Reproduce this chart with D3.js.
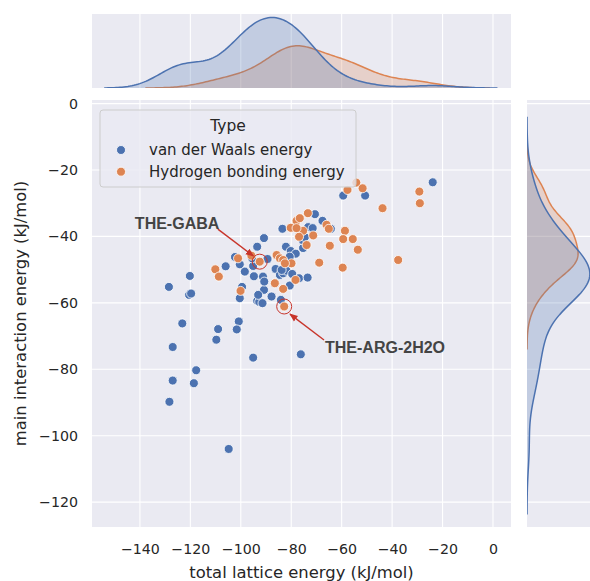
<!DOCTYPE html>
<html>
<head>
<meta charset="utf-8">
<script src="https://cdn.jsdelivr.net/npm/d3@7"></script>
<style>
  body{margin:0;background:#fff;}
  svg text{font-family:"DejaVu Sans",sans-serif;fill:#262626;}
</style>
</head>
<body>
<svg id="chart" width="590" height="581"></svg>
<script>
// van der Waals energy points: [total lattice energy, main interaction energy]
const vdwPts=[[-128.5,-55.2],[-120.2,-51.9],[-120.5,-57.6],[-119.7,-57.2],[-123.2,-66.2],[-127,-73.3],[-117.7,-80.3],[-127,-83.4],[-118.6,-84.2],[-128.3,-89.8],
  [-104.8,-104],[-109,-67.9],[-109.7,-71.1],[-100.8,-65.6],[-101.6,-68],[-100.4,-58.6],[-99.5,-55.2],[-106,-49],[-102.3,-46.2],[-100.4,-48.4],
  [-98.4,-50.6],[-95.1,-76.5],[-76.2,-75.5],[-83.5,-37.7],[-90.8,-40.5],[-93.5,-43.1],[-95.1,-48.9],[-94.8,-52],[-91.2,-52.1],[-89.4,-46.8],
  [-93.5,-59.4],[-92.7,-59.7],[-91.4,-60.1],[-90.8,-56.1],[-90.7,-53.6],[-87.8,-58.1],[-86.5,-54.1],[-86.2,-49.8],[-84.5,-51.6],[-83.2,-51.1],
  [-81.9,-50.3],[-84.1,-59.1],[-80.6,-54.8],[-82.1,-43.1],[-80.2,-44.4],[-79.6,-51.3],[-76.9,-52.6],[-73.5,-52.4],[-75.3,-43.5],[-75.5,-41.1],
  [-73.3,-37.2],[-70.6,-33.3],[-67.6,-35.3],[-64.3,-37.7],[-59.4,-27.7],[-23.9,-23.7],[-50.7,-27.7],[-71.5,-37.5],[-74.6,-40.2],[-78.2,-45.2],
  [-80.6,-46.1],[-83.8,-50.1],[-93.1,-57.6],[-95.5,-46.6]];
// hydrogen bonding energy points
const hbPts=[[-110.1,-49.9],[-108.7,-52.1],[-100.1,-56.4],[-92.5,-47.6],[-95.8,-45.8],[-85.8,-45.6],[-84.5,-46.6],[-83.2,-47.1],[-82.8,-61.1],[-83.2,-55.8],
  [-78.3,-53.1],[-79.9,-48.1],[-82.5,-48.1],[-86.5,-54.1],[-80.2,-37.4],[-77.9,-35.3],[-76.6,-34.5],[-75.3,-38.3],[-76.9,-40.1],[-73.4,-33],
  [-66,-36.5],[-65.1,-37.7],[-64.7,-42.8],[-68.9,-47.9],[-59.6,-49.4],[-58.7,-38.3],[-59.4,-40.8],[-55.6,-40.8],
  [-53.6,-44],[-57.7,-26],[-54.2,-23.8],[-51.7,-25.5],[-29.2,-26.5],[-29,-30],[-43.8,-31.5],[-37.6,-47.1],[-71.3,-39.7],
  [-73.9,-42.6],[-77.9,-37.5],[-101.1,-46.6]];

const seriesNames=["van der Waals energy","Hydrogen bonding energy"];
const seriesColors=["#4c72b0","#dd8452"];
const xTicks=[-140,-120,-100,-80,-60,-40,-20,0];
const yTicks=[0,-20,-40,-60,-80,-100,-120];

// labelled points: [label, point, text pos, arrow start, arrow end]
const notes=[
  ["THE-GABA",[-92.5,-47.6],[-142,-37.9],[-109.1,-37.8],[-95,-45.9]],
  ["THE-ARG-2H2O",[-82.8,-61.1],[-66.6,-75.1],[-67,-71.2],[-80.5,-63.4]]
];

const svg=d3.select("#chart");
const M={l:92,r:511,t:100,b:527};
const topM={t:14,b:88}, side={l:527,r:593};
const x=d3.scaleLinear().domain([-159,7.14]).range([M.l,M.r]);
const y=d3.scaleLinear().domain([1.08,-127.5]).range([M.t,M.b]);

// panels
svg.append("rect").attr("x",M.l).attr("y",M.t).attr("width",M.r-M.l).attr("height",M.b-M.t).attr("fill","#eaeaf2");
svg.append("rect").attr("x",M.l).attr("y",topM.t).attr("width",M.r-M.l).attr("height",topM.b-topM.t).attr("fill","#eaeaf2");
svg.append("rect").attr("x",side.l).attr("y",M.t).attr("width",side.r-side.l).attr("height",M.b-M.t).attr("fill","#eaeaf2");

// grids
const grid=svg.append("g").attr("stroke","#fff").attr("stroke-width",1.1);
xTicks.forEach(v=>{
  grid.append("line").attr("x1",x(v)).attr("x2",x(v)).attr("y1",M.t).attr("y2",M.b);
  grid.append("line").attr("x1",x(v)).attr("x2",x(v)).attr("y1",topM.t).attr("y2",topM.b);
});
yTicks.forEach(v=>{
  grid.append("line").attr("x1",M.l).attr("x2",M.r).attr("y1",y(v)).attr("y2",y(v));
  grid.append("line").attr("x1",side.l).attr("x2",side.r).attr("y1",y(v)).attr("y2",y(v));
});

// axes
const xAxis=svg.append("g").attr("transform",`translate(0,${M.b})`)
  .call(d3.axisBottom(x).tickValues(xTicks).tickSize(0).tickPadding(17));
const yAxis=svg.append("g").attr("transform",`translate(${M.l},0)`)
  .call(d3.axisLeft(y).tickValues(yTicks).tickSize(0).tickPadding(14));
[xAxis,yAxis].forEach(a=>{a.select(".domain").remove();a.selectAll("text").attr("font-size",14.2).attr("fill","#262626");});

svg.append("text").attr("x",(M.l+M.r)/2).attr("y",578).attr("text-anchor","middle")
  .attr("font-size",16.4).text("total lattice energy (kJ/mol)");
svg.append("text").attr("transform",`translate(26,${(M.t+M.b)/2}) rotate(-90)`).attr("text-anchor","middle")
  .attr("font-size",16.4).text("main interaction energy (kJ/mol)");

// KDE (scott bandwidth, common norm)
const groups=[vdwPts,hbPts];
const total=d3.sum(groups,g=>g.length);
function kde(vals,w){
  const n=vals.length, h=d3.deviation(vals)*Math.pow(n,-0.2);
  const lo=d3.min(vals)-3*h, hi=d3.max(vals)+3*h;
  return d3.range(200).map(i=>{
    const g=lo+(hi-lo)*i/199;
    const d=d3.mean(vals,v=>Math.exp(-0.5*((g-v)/h)**2))/(h*Math.sqrt(2*Math.PI));
    return [g,d*w];
  });
}
const xd=groups.map(g=>kde(g.map(p=>p[0]),g.length/total));
const yd=groups.map(g=>kde(g.map(p=>p[1]),g.length/total));
const ty=d3.scaleLinear().domain([0,d3.max(xd.flat(),d=>d[1])*1.05]).range([topM.b,topM.t]);
const sx=d3.scaleLinear().domain([0,d3.max(yd.flat(),d=>d[1])*1.05]).range([side.l,side.r]);

const topArea=d3.area().x(d=>x(d[0])).y0(ty(0)).y1(d=>ty(d[1]));
const topLine=d3.line().x(d=>x(d[0])).y(d=>ty(d[1]));
const sideArea=d3.area().y(d=>y(d[0])).x0(sx(0)).x1(d=>sx(d[1]));
const sideLine=d3.line().y(d=>y(d[0])).x(d=>sx(d[1]));

const defs=svg.append("defs");
defs.append("clipPath").attr("id","topclip").append("rect").attr("x",M.l).attr("y",topM.t).attr("width",M.r-M.l).attr("height",topM.b-topM.t);
defs.append("clipPath").attr("id","sideclip").append("rect").attr("x",side.l).attr("y",M.t).attr("width",side.r-side.l).attr("height",M.b-M.t);
const tg=svg.append("g").attr("clip-path","url(#topclip)");
const sg=svg.append("g").attr("clip-path","url(#sideclip)");
[1,0].forEach(i=>{
  tg.append("path").attr("d",topArea(xd[i])).attr("fill",seriesColors[i]).attr("fill-opacity",0.25);
  tg.append("path").attr("d",topLine(xd[i])).attr("fill","none").attr("stroke",seriesColors[i]).attr("stroke-width",1.5);
  sg.append("path").attr("d",sideArea(yd[i])).attr("fill",seriesColors[i]).attr("fill-opacity",0.25);
  sg.append("path").attr("d",sideLine(yd[i])).attr("fill","none").attr("stroke",seriesColors[i]).attr("stroke-width",1.5);
});

// scatter
groups.forEach((g,i)=>{
  svg.append("g").selectAll("circle").data(g).join("circle")
    .attr("cx",d=>x(d[0])).attr("cy",d=>y(d[1])).attr("r",4.5)
    .attr("fill",seriesColors[i]).attr("stroke","#fff").attr("stroke-width",0.8);
});

// annotations
const red="#c8352b";
defs.append("marker").attr("id","ah").attr("viewBox","0 0 10 10").attr("refX",9).attr("refY",5)
  .attr("markerWidth",6).attr("markerHeight",6).attr("orient","auto")
  .append("path").attr("d","M0,1 L10,5 L0,9 z").attr("fill",red);
notes.forEach(([label,pt,tp,a0,a1])=>{
  svg.append("circle").attr("cx",x(pt[0])).attr("cy",y(pt[1])).attr("r",7.5)
    .attr("fill","none").attr("stroke",red).attr("stroke-width",1);
  svg.append("line").attr("x1",x(a0[0])).attr("y1",y(a0[1])).attr("x2",x(a1[0])).attr("y2",y(a1[1]))
    .attr("stroke",red).attr("stroke-width",1.4).attr("marker-end","url(#ah)");
  svg.append("text").attr("x",x(tp[0])).attr("y",y(tp[1])).style("font-family","'Liberation Sans',Arial,sans-serif")
    .attr("font-weight","bold").attr("font-size",16).style("fill","#444").text(label);
});

// legend
const lg=svg.append("g");
lg.append("rect").attr("x",100).attr("y",110).attr("width",256).attr("height",77).attr("rx",3)
  .attr("fill","#eaeaf2").attr("fill-opacity",0.8).attr("stroke","#cccccc");
lg.append("text").attr("x",228).attr("y",131).attr("text-anchor","middle").attr("font-size",15.5).text("Type");
seriesNames.forEach((n,i)=>{
  lg.append("circle").attr("cx",121).attr("cy",150+i*21.7).attr("r",4.5).attr("fill",seriesColors[i]).attr("stroke","#fff").attr("stroke-width",0.8);
  lg.append("text").attr("x",149).attr("y",155+i*21.7).attr("font-size",15).text(n);
});
</script>
</body>
</html>
